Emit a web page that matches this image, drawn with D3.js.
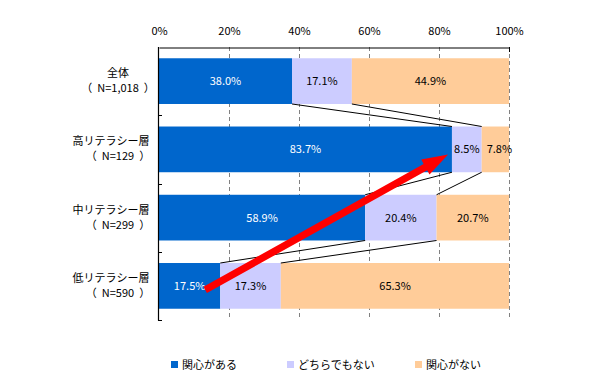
<!DOCTYPE html>
<html><head><meta charset="utf-8">
<script src="https://cdn.jsdelivr.net/npm/d3@7"></script>
<style>body{margin:0;background:#fff}svg{display:block}</style>
</head><body>
<svg id="c" width="600" height="377"></svg>
<script>
const categories = ["全体", "高リテラシー層", "中リテラシー層", "低リテラシー層"];
const sampleLabels = ["（N=1,018）", "（N=129）", "（N=299）", "（N=590）"];
const seriesNames = ["関心がある", "どちらでもない", "関心がない"];
const interested = [38.0, 83.7, 58.9, 17.5];
const neutral = [17.1, 8.5, 20.4, 17.3];
const notInterested = [44.9, 7.8, 20.7, 65.3];
const tickValues = [0, 20, 40, 60, 80, 100];
const arrowFrom = {cat: "低リテラシー層", value: 13.2};
const arrowTo = {cat: "高リテラシー層", value: 82.6};

const colors = ["#0066CC", "#CCCCFF", "#FFCC99"];
const textColors = ["#ffffff", "#000000", "#000000"];
const font = "'Noto Sans CJK JP', 'DejaVu Sans', sans-serif";

const svg = d3.select("#c");
const x = d3.scaleLinear().domain([0, 100]).range([159, 509]);
const y = d3.scaleBand().domain(categories).range([47, 320]).paddingInner(0.33).paddingOuter(0.165);
const bw = y.bandwidth();

const seriesVals = [interested, neutral, notInterested];
const rows = categories.map((c, i) => {
  let cum = 0;
  return seriesVals.map((s, k) => {
    const d = {cat: c, k, v: s[i], x0: cum, x1: cum + s[i]};
    cum += s[i];
    return d;
  });
});

// gridlines
svg.append("g").selectAll("line").data(tickValues.filter(t => t > 0)).join("line")
  .attr("x1", d => x(d) + 0.5).attr("x2", d => x(d) + 0.5)
  .attr("y1", 47).attr("y2", 320)
  .attr("stroke", "#808080").attr("stroke-width", 1).attr("stroke-dasharray", "4,3");

// bars
const g = svg.append("g");
rows.flat().forEach(d => {
  g.append("rect")
    .attr("x", x(d.x0)).attr("y", y(d.cat))
    .attr("width", Math.min(x(d.x1), x(100)) - x(d.x0)).attr("height", bw)
    .attr("fill", colors[d.k]);
});

// series connector lines
for (let i = 0; i < categories.length - 1; i++) {
  [0, 1].forEach(k => {
    svg.append("line")
      .attr("x1", x(rows[i][k].x1)).attr("y1", y(categories[i]) + bw)
      .attr("x2", x(rows[i + 1][k].x1)).attr("y2", y(categories[i + 1]))
      .attr("stroke", "#000").attr("stroke-width", 1);
  });
}

// value labels
rows.flat().forEach(d => {
  svg.append("text")
    .attr("x", x((d.x0 + d.x1) / 2) + (d.k === 2 && d.v < 10 ? 4 : 0))
    .attr("y", y(d.cat) + bw / 2 + 4)
    .attr("text-anchor", "middle")
    .attr("font-family", font).attr("font-size", 11)
    .attr("fill", textColors[d.k])
    .text(d.v.toFixed(1) + "%");
});

// top axis
const axTop = svg.append("g").attr("transform", "translate(0,47.5)")
  .call(d3.axisTop(x).tickValues(tickValues).tickSize(0).tickPadding(13).tickFormat(d => d + "%"));
axTop.select(".domain").attr("stroke", "#000");
axTop.selectAll("text").attr("font-family", font).attr("font-size", 11).attr("fill", "#000");
svg.append("line").attr("x1", x(100) + 0.5).attr("x2", x(100) + 0.5).attr("y1", 47).attr("y2", 52).attr("stroke", "#000");

// left axis
svg.append("line").attr("x1", x(0) - 0.5).attr("x2", x(0) - 0.5).attr("y1", 47).attr("y2", 320.5)
  .attr("stroke", "#000").attr("stroke-width", 1.2);
const bounds = [1, 2, 3, 4].map(i => y.range()[0] + y.step() * i);
svg.append("g").selectAll("line").data(bounds).join("line")
  .attr("x1", x(0) - 1).attr("x2", x(0) + 3)
  .attr("y1", d => Math.round(d) + 0.5).attr("y2", d => Math.round(d) + 0.5)
  .attr("stroke", "#000");

// category labels
categories.forEach((c, i) => {
  const cy = y(c) + bw / 2;
  svg.append("text").attr("x", i === 0 ? 118 : 111).attr("y", cy - 4)
    .attr("text-anchor", "middle").attr("font-family", font).attr("font-size", 11).attr("fill", "#000")
    .text(c);
  const s = sampleLabels[i];
  const t = svg.append("text").attr("x", 118).attr("y", cy + 11)
    .attr("text-anchor", "middle").attr("font-family", font).attr("font-size", 11).attr("fill", "#000");
  t.append("tspan").text(s.slice(0, 1));
  t.append("tspan").attr("dx", 5).text(s.slice(1, -1));
  t.append("tspan").attr("dx", 5).text(s.slice(-1));
});

// red arrow
const p0 = [x(arrowFrom.value), y(arrowFrom.cat) + bw / 2 + 4];
const p1 = [x(arrowTo.value), y(arrowTo.cat) + bw / 2 + 5];
const dx = p1[0] - p0[0], dy = p1[1] - p0[1];
const len = Math.hypot(dx, dy);
const ux = dx / len, uy = dy / len, nx = -uy, ny = ux;
const headL = 26, headW = 8.5, shaftW = 3.6;
const hb = [p1[0] - ux * headL, p1[1] - uy * headL];
const pts = [
  [p0[0] + nx * shaftW, p0[1] + ny * shaftW],
  [hb[0] + nx * shaftW, hb[1] + ny * shaftW],
  [hb[0] + nx * headW, hb[1] + ny * headW],
  p1,
  [hb[0] - nx * headW, hb[1] - ny * headW],
  [hb[0] - nx * shaftW, hb[1] - ny * shaftW],
  [p0[0] - nx * shaftW, p0[1] - ny * shaftW]
];
svg.append("polygon").attr("points", pts.map(p => p.join(",")).join(" ")).attr("fill", "#FF0000");

// legend
const legendX = [171, 287, 415];
seriesNames.forEach((n, k) => {
  svg.append("rect").attr("x", legendX[k]).attr("y", 361).attr("width", 7).attr("height", 7).attr("fill", colors[k]);
  svg.append("text").attr("x", legendX[k] + 11).attr("y", 368.5)
    .attr("font-family", font).attr("font-size", 11).attr("fill", "#000").text(n);
});
</script>
</body></html>
